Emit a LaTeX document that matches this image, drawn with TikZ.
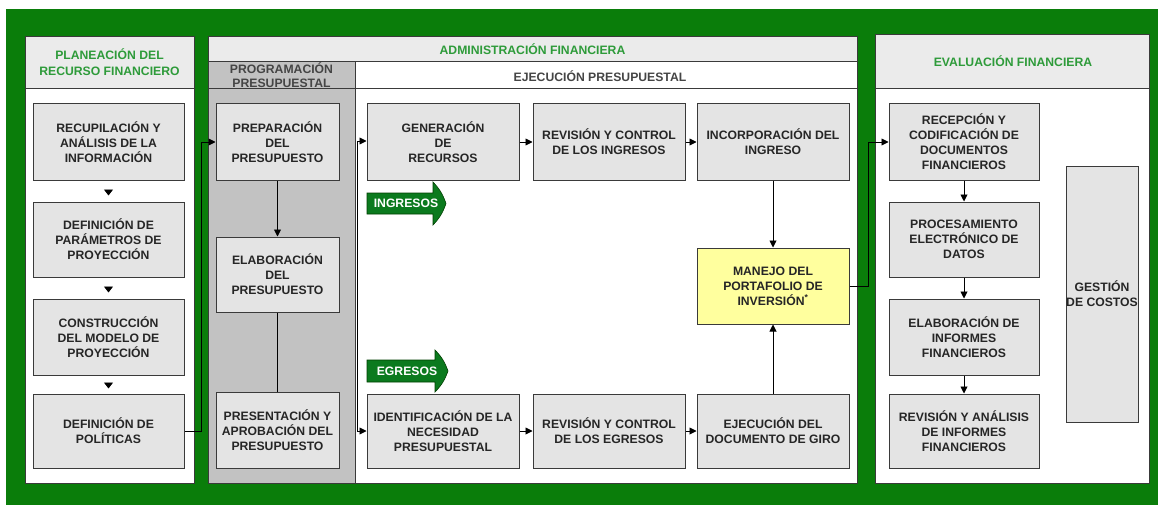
\documentclass[tikz,border=0pt]{standalone}
\usepackage{fontspec}
\setmainfont{Liberation Sans}
\usetikzlibrary{arrows.meta}
\definecolor{bggreen}{HTML}{0A7D0A}
\definecolor{hdrgreen}{HTML}{2E9B3A}
\definecolor{hdrgray}{HTML}{EBEBEB}
\definecolor{boxgray}{HTML}{E4E4E4}
\definecolor{colgray}{HTML}{C2C2C2}
\definecolor{edge}{HTML}{3A3A3A}
\definecolor{txt}{HTML}{262626}
\definecolor{subtxt}{HTML}{454545}
\definecolor{ylw}{HTML}{FFFF9E}
\definecolor{arrgreen}{HTML}{0B7A1E}
\begin{document}
\begin{tikzpicture}[x=1pt,y=-1pt,
  font=\fontsize{12.2}{15}\selectfont\bfseries,
  proc/.style={draw=edge, line width=1pt, fill=boxgray, text=txt, align=center, inner sep=0pt},
  pw/.style={proc, minimum width=151pt, minimum height=75pt},
  prw/.style={proc, minimum width=123pt, minimum height=76pt},
  ew/.style={proc, minimum width=152pt, minimum height=76pt},
  ew2/.style={proc, minimum width=152pt, minimum height=74pt},
  hdr/.style={text=hdrgreen, align=center, inner sep=0pt, font=\fontsize{12.2}{16}\selectfont\bfseries},
  subhdr/.style={text=subtxt, align=center, inner sep=0pt, font=\fontsize{12.2}{14}\selectfont\bfseries},
  panel/.style={draw=edge, line width=1pt},
  arr/.style={-{Triangle[length=7pt,width=7pt]}, line width=0.9pt, draw=black},
  conn/.style={line width=0.9pt, draw=black},
  tri/.style={-{Triangle[length=6pt,width=9pt]}, line width=0.9pt, draw=black},
  barrow/.style={fill=arrgreen, draw=green!25!black, line width=0.6pt},
  barrowtxt/.style={text=white, inner sep=0pt}
]
\useasboundingbox (0,0) rectangle (1161,508);
\fill[white] (0,0) rectangle (1161,508);
\fill[bggreen] (6,9) rectangle (1158,505);

% Panel 1
\filldraw[panel, fill=white] (25,37) rectangle (194,483);
\filldraw[panel, fill=hdrgray] (25,37) rectangle (194,89);
% Panel 2
\filldraw[panel, fill=white] (208,37) rectangle (857,483);
\filldraw[panel, fill=hdrgray] (208,37) rectangle (857,62);
\filldraw[panel, fill=colgray] (208,62) rectangle (355,483);
\draw[panel] (208,62) rectangle (355,89);
\filldraw[panel, fill=white] (355,62) rectangle (857,89);
% Panel 3
\filldraw[panel, fill=white] (875,35) rectangle (1149,483);
\filldraw[panel, fill=hdrgray] (875,35) rectangle (1149,89);

% Headers
\node[hdr] (t1) at (109.5,62) {PLANEACIÓN DEL\\RECURSO FINANCIERO};
\node[hdr] (t2) at (532.5,49.5) {ADMINISTRACIÓN FINANCIERA};
\node[subhdr] (t3) at (281.5,75.5) {PROGRAMACIÓN\\PRESUPUESTAL};
\node[subhdr] (t4) at (600,76) {EJECUCIÓN PRESUPUESTAL};
\node[hdr] (t5) at (1013,61) {EVALUACIÓN FINANCIERA};

% Panel 1 boxes
\node[pw, minimum height=76pt] (p1a) at (108.5,142) {RECUPILACIÓN Y\\ANÁLISIS DE LA\\INFORMACIÓN};
\node[pw] (p1b) at (108.5,239.5) {DEFINICIÓN DE\\PARÁMETROS DE\\PROYECCIÓN};
\node[pw, minimum height=76pt] (p1c) at (108.5,337) {CONSTRUCCIÓN\\DEL MODELO DE\\PROYECCIÓN};
\node[pw, minimum height=74pt] (p1d) at (108.5,431) {DEFINICIÓN DE\\POLÍTICAS};

% Programación boxes
\node[prw] (prep) at (277.5,142) {PREPARACIÓN\\DEL\\PRESUPUESTO};
\node[prw, minimum height=75pt] (elab) at (277.5,274.5) {ELABORACIÓN\\DEL\\PRESUPUESTO};
\node[prw] (pres) at (277.5,430) {PRESENTACIÓN Y\\APROBACIÓN DEL\\PRESUPUESTO};

% Ejecución boxes
\node[ew] (gen) at (443,142) {GENERACIÓN\\DE\\RECURSOS};
\node[ew] (ring) at (609,142) {REVISIÓN Y CONTROL\\DE LOS INGRESOS};
\node[ew] (inc) at (773,142) {INCORPORACIÓN DEL\\INGRESO};
\node[ew, fill=ylw] (man) at (773,286) {MANEJO DEL\\PORTAFOLIO DE\\INVERSIÓN\textsuperscript{*}};
\node[ew2] (ident) at (443,431) {IDENTIFICACIÓN DE LA\\NECESIDAD\\PRESUPUESTAL};
\node[ew2] (regr) at (609,431) {REVISIÓN Y CONTROL\\DE LOS EGRESOS};
\node[ew2] (ejec) at (773,431) {EJECUCIÓN DEL\\DOCUMENTO DE GIRO};

% Evaluación boxes
\node[pw, minimum width=150pt, minimum height=76pt] (recep) at (964,142) {RECEPCIÓN Y\\CODIFICACIÓN DE\\DOCUMENTOS\\FINANCIEROS};
\node[pw, minimum width=150pt] (procs) at (964,239.5) {PROCESAMIENTO\\ELECTRÓNICO DE\\DATOS};
\node[pw, minimum width=150pt, minimum height=76pt] (elabi) at (964,337) {ELABORACIÓN DE\\INFORMES\\FINANCIEROS};
\node[pw, minimum width=150pt, minimum height=74pt] (revi) at (964,431) {REVISIÓN Y ANÁLISIS\\DE INFORMES\\FINANCIEROS};
\node[proc, minimum width=72pt, minimum height=256pt] (gest) at (1102,294) {GESTIÓN\\DE COSTOS};

% Block arrows
\path[barrow] (367,193) -- (433,193) -- (433,182) to[bend left=12] (446,203.5) to[bend left=12] (433,225) -- (433,214) -- (367,214) -- cycle;
\node[barrowtxt] (ting) at (406,203.5) {INGRESOS};
\path[barrow] (367,360) -- (435,360) -- (435,350) to[bend left=12] (448,371) to[bend left=12] (435,392) -- (435,382) -- (367,382) -- cycle;
\node[barrowtxt] (tegr) at (407,371) {EGRESOS};

% Panel 1 connectors
\draw[tri, shorten <=10pt, shorten >=6pt] (p1a.south) -- (p1b.north);
\draw[tri, shorten <=10pt, shorten >=6pt] (p1b.south) -- (p1c.north);
\draw[tri, shorten <=8pt, shorten >=5pt] (p1c.south) -- (p1d.north);

% Planeación -> Programación
\draw[arr] (p1d.east) -- ++(17,0) |- (prep.west);
\draw[arr] (prep.south) -- (elab.north);
\draw[conn] (elab.south) -- (pres.north);

% Programación -> Ejecución
\coordinate (s1) at (357,141);
\coordinate (s2) at (357,431);
\draw[conn] (s1) -- (s2);
\draw[arr] (s1) -- (gen.west |- s1);
\draw[arr] (s2) -- (ident.west);

% Ingresos row
\draw[arr] (gen.east) -- (ring.west);
\draw[arr] (ring.east) -- (inc.west);
\draw[arr] (inc.south) -- (man.north);
% Egresos row
\draw[arr] (ident.east) -- (regr.west);
\draw[arr] (regr.east) -- (ejec.west);
\draw[arr] (ejec.north) -- (man.south);

% Manejo -> Evaluación
\draw[arr] (man.east) -- (868,286) |- (recep.west);

% Evaluación column
\draw[arr] (recep.south) -- (procs.north);
\draw[arr] (procs.south) -- (elabi.north);
\draw[arr] (elabi.south) -- (revi.north);
\end{tikzpicture}
\end{document}
